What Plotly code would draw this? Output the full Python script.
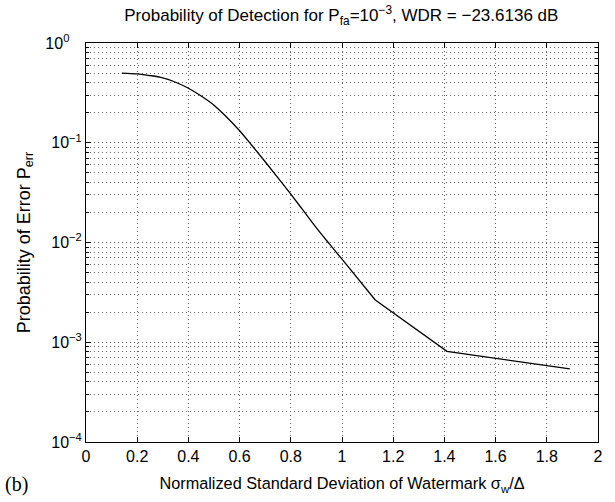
import plotly.graph_objects as go

# smooth part of the curve
sigma_a = [0.14, 0.2, 0.25, 0.3, 0.35, 0.4, 0.45, 0.5, 0.55, 0.6, 0.65, 0.7, 0.75, 0.8, 0.85, 0.9, 0.95, 1.0, 1.13]
perr_a = [0.50, 0.49, 0.472, 0.447, 0.404, 0.352, 0.294, 0.238, 0.180, 0.132, 0.0927, 0.0645, 0.0445, 0.0305,
          0.0207, 0.0140, 0.00973, 0.0068, 0.00265]
# piecewise part
sigma_b = [1.13, 1.41, 1.89]
perr_b = [0.00265, 0.00081, 0.00054]

xticks = [0, 0.2, 0.4, 0.6, 0.8, 1, 1.2, 1.4, 1.6, 1.8, 2]
xticklabels = ["0", "0.2", "0.4", "0.6", "0.8", "1", "1.2", "1.4", "1.6", "1.8", "2"]
yticks = [1e-4, 1e-3, 1e-2, 1e-1, 1]
yticklabels = ["10<sup>−4</sup>", "10<sup>−3</sup>", "10<sup>−2</sup>", "10<sup>−1</sup>",
               "10<sup>0\u2007\u2007</sup>"]

font = "Liberation Sans, Arial, Helvetica, sans-serif"
gridc = "#666"
gdash = "1px,3px"

fig = go.Figure()
fig.add_trace(go.Scatter(x=sigma_a, y=perr_a, mode="lines", line_shape="spline",
                         line=dict(color="black", width=1.3), showlegend=False))
fig.add_trace(go.Scatter(x=sigma_b, y=perr_b, mode="lines",
                         line=dict(color="black", width=1.3), showlegend=False))

fig.update_layout(
    width=615, height=502,
    margin=dict(l=86, r=16, t=43, b=55),
    paper_bgcolor="white", plot_bgcolor="white",
    font=dict(family=font, size=16, color="black"),
    title=dict(text="Probability of Detection for P<sub>fa</sub>=10<sup>−3</sup>, WDR = −23.6136 dB",
               x=0.555, xanchor="center", y=0.97, yanchor="middle",
               font=dict(family=font, size=17, color="black")),
    xaxis=dict(range=[0, 2], tickvals=xticks, ticktext=xticklabels,
               ticks="inside", ticklen=5, tickcolor="black", mirror="allticks",
               showline=True, linecolor="black", linewidth=1,
               showgrid=True, gridcolor=gridc, griddash=gdash, gridwidth=1,
               zeroline=False, tickfont=dict(size=16),
               title=dict(text="Normalized Standard Deviation of Watermark σ<sub>w</sub>/Δ",
                          font=dict(size=16.3), standoff=13)),
    yaxis=dict(type="log", range=[-4, 0], tickvals=yticks, ticktext=yticklabels,
               ticks="inside", ticklen=5, tickcolor="black", mirror="allticks",
               showline=True, linecolor="black", linewidth=1,
               showgrid=True, gridcolor=gridc, griddash=gdash, gridwidth=1,
               zeroline=False, tickfont=dict(size=16),
               minor=dict(ticks="inside", ticklen=3, tickcolor="black",
                          showgrid=True, gridcolor=gridc, griddash=gdash, gridwidth=1,
                          dtick="D1"),
               title=dict(text="Probability of Error P<sub>err</sub>",
                          font=dict(size=18), standoff=10)),
    annotations=[dict(text="(b)", xref="paper", yref="paper", x=-0.162, y=-0.106,
                      xanchor="left", yanchor="middle", showarrow=False,
                      font=dict(family="Liberation Serif, Times New Roman, serif", size=20, color="black"))],
)

fig.write_html("out.html")
